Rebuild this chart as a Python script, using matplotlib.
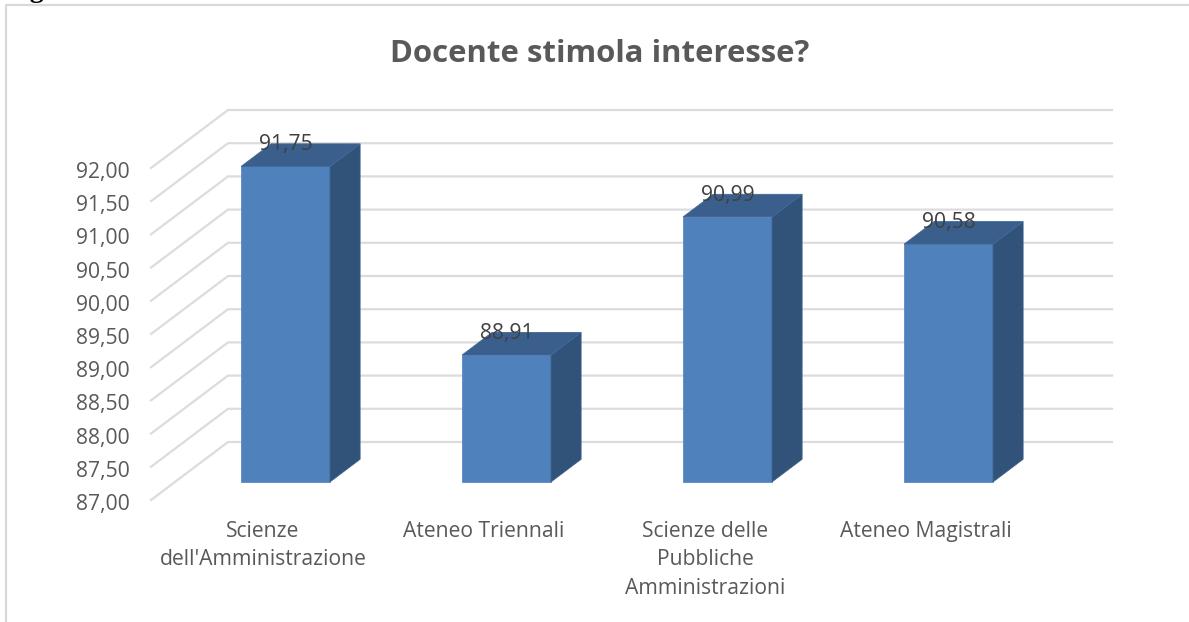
import matplotlib
matplotlib.use("Agg")
import matplotlib.pyplot as plt
from matplotlib.patches import Polygon
from matplotlib.transforms import ScaledTranslation

W, H = 1189, 622

categories = ["Scienze\ndell'Amministrazione", "Ateneo Triennali",
              "Scienze delle\nPubbliche\nAmministrazioni", "Ateneo Magistrali"]
values = [91.75, 88.91, 90.99, 90.58]
labels = ["91,75", "88,91", "90,99", "90,58"]
y_ticks = [87, 87.5, 88, 88.5, 89, 89.5, 90, 90.5, 91, 91.5, 92]
y_tick_labels = ["87,00", "87,50", "88,00", "88,50", "89,00", "89,50",
                 "90,00", "90,50", "91,00", "91,50", "92,00"]

# oblique depth of the fake 3d box, in data units
DX = 77 / 221
DY = 58 / 66.4
BAR_W = 89 / 221
FONT = "Open Sans"

fig = plt.figure(figsize=(W / 100, H / 100), dpi=100)

# border of the chart area, and the cut off caption above it
fig.add_artist(plt.Line2D([6 / W, 6 / W, 1], [0, 1 - 5 / H, 1 - 5 / H], color="#d9d9d9", lw=1.6))
fig.text(6 / W, 1 + 3 / H, "Figura", family="Liberation Serif", weight="bold",
         fontsize=20, color="black", va="baseline")

ax = fig.add_axes([151 / W, 1 - 500 / H, 884 / W, 332 / H])
ax.set_xlim(-0.5, 3.5)
ax.set_ylim(87, 92)
ax.patch.set_visible(False)
for s in ax.spines.values():
    s.set_visible(False)

# floor + back wall grid
for t in y_ticks:
    ax.plot([-0.5, -0.5 + DX, 3.5 + DX], [t, t + DY, t + DY], color="#dcdcdc", lw=1.6,
            clip_on=False, zorder=1, solid_joinstyle="miter")

for i, v in enumerate(values):
    x0 = i - BAR_W / 2 + DX * 0.3125
    x1 = x0 + BAR_W
    base = 87 + DY * 0.3125
    top = v + DY * 0.3125 - 0.0
    ddx = DX * 0.39
    ddy = DY * 0.39
    ax.add_patch(Polygon([(x0, base), (x1, base), (x1, top), (x0, top)],
                         fc="#4f81bd", ec="#5a8ac2", lw=0.6, clip_on=False, zorder=3))
    ax.add_patch(Polygon([(x1, base), (x1 + ddx, base + ddy), (x1 + ddx, top + ddy), (x1, top)],
                         fc="#315379", ec="#3a5f8a", lw=0.6, clip_on=False, zorder=3))
    ax.add_patch(Polygon([(x0, top), (x1, top), (x1 + ddx, top + ddy), (x0 + ddx, top + ddy)],
                         fc="#3a5f8c", ec="#41689a", lw=0.6, clip_on=False, zorder=3))
    ax.text(i + DX * 0.3125, top + 0.33, labels[i], family=FONT, fontsize=15.2, color="#404040",
            ha="center", va="center", zorder=4)

ax.set_yticks(y_ticks)
ax.set_yticklabels(y_tick_labels, family=FONT, fontsize=15.2, color="#595959")
ax.set_xticks(range(len(categories)))
ax.set_xticklabels(categories, family=FONT, fontsize=15.2, color="#595959", linespacing=1.47)
ax.tick_params(axis="y", length=0, pad=15)
ax.tick_params(axis="x", length=0, pad=15)

# nudge tick labels by a pixel or two
down = ScaledTranslation(0, -2 / 100, fig.dpi_scale_trans)
right = ScaledTranslation(1.5 / 100, 0, fig.dpi_scale_trans)
for lab in ax.get_yticklabels():
    lab.set_transform(lab.get_transform() + down)
for lab in ax.get_xticklabels():
    lab.set_transform(lab.get_transform() + right)

fig.text(600 / W, 1 - 54 / H, "Docente stimola interesse?", family=FONT, weight="bold",
         fontsize=22.4, color="#595959", ha="center", va="center")

fig.savefig("out.png", dpi=100)
